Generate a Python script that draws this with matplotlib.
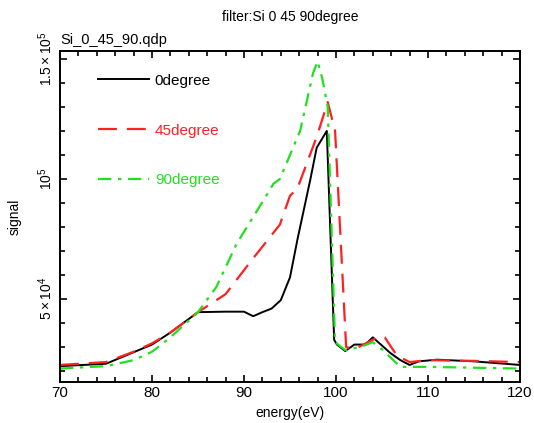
import matplotlib
matplotlib.use("Agg")
import matplotlib.pyplot as plt
from matplotlib.ticker import MultipleLocator, FixedLocator, FixedFormatter

plt.rcParams['font.family'] = ['Liberation Sans', 'DejaVu Sans']
plt.rcParams['mathtext.fontset'] = 'custom'
plt.rcParams['mathtext.rm'] = 'Liberation Sans'
plt.rcParams['mathtext.it'] = 'Liberation Sans'

# ---- data ----
e0 = [70, 75, 80, 82, 85, 88, 90, 91, 92, 93, 94, 95, 95.8, 97.2, 97.9, 99.0, 99.8, 100.1,
      101.0, 102.0, 103.2, 104.0, 105.9, 107.0, 108.0, 109.0, 111.0, 115.0, 120.0]
s0 = [2.2e4, 2.3e4, 3.1e4, 3.6e4, 4.45e4, 4.47e4, 4.47e4, 4.28e4, 4.45e4, 4.6e4, 4.95e4, 5.9e4,
      7.46e4, 9.96e4, 1.13e5, 1.2e5, 3.3e4, 3.1e4,
      2.83e4, 3.1e4, 3.1e4, 3.4e4, 2.75e4, 2.45e4, 2.25e4, 2.4e4, 2.47e4, 2.4e4, 2.25e4]

e45 = [70, 75, 78, 80, 82, 85, 88, 90.6, 93.9, 95.0, 95.8, 97.9, 99.1, 99.9, 101.1, 101.9,
       103.0, 104.0, 104.8, 105.3, 106.6, 108.0, 110.0, 115.0, 120.0]
s45 = [2.25e4, 2.37e4, 2.8e4, 3.15e4, 3.6e4, 4.45e4, 5.2e4, 6.5e4, 8.1e4, 9.3e4, 9.6e4, 1.175e5,
       1.32e5, 1.2e5, 3.0e4, 2.9e4,
       3.1e4, 3.3e4, 3.45e4, 3.4e4, 2.65e4, 2.37e4, 2.45e4, 2.42e4, 2.37e4]

e90 = [70, 75, 78, 80, 82, 85, 87, 89.2, 92.1, 93.2, 93.9, 96.1, 97.5, 98.0, 98.5, 99.1,
       99.9, 101.0, 102.0, 103.0, 104.0, 105.0, 107.0, 110.0, 120.0]
s90 = [2.1e4, 2.2e4, 2.45e4, 2.8e4, 3.4e4, 4.45e4, 5.5e4, 7.3e4, 9.1e4, 9.8e4, 1.0e5, 1.2e5,
       1.44e5, 1.49e5, 1.42e5, 1.3e5,
       3.2e4, 2.87e4, 2.95e4, 3.05e4, 3.2e4, 2.9e4, 2.17e4, 2.17e4, 2.1e4]

labels = ['0degree', '45degree', '90degree']
colors = ['black', '#ff2020', '#20e020']

yticks = [5e4, 1e5, 1.5e5]
yticklabels = [r'$5\times10^4$', r'$10^5$', r'$1.5\times10^5$']
xticks = [70, 80, 90, 100, 110, 120]

# ---- figure ----
fig = plt.figure(figsize=(5.34, 4.23), dpi=100)
ax = fig.add_axes([60/534, 1-382/423, 460/534, 331/423])

l0, = ax.plot(e0, s0, color=colors[0], lw=1.4, ls='-')
l1, = ax.plot(e45, s45, color=colors[1], lw=1.6, ls=(0, (8.5, 4.5)))
l2, = ax.plot(e90, s90, color=colors[2], lw=1.6, ls=(0, (6, 3, 1.5, 3)))

ax.set_xlim(70, 120)
ax.set_ylim(1.54e4, 1.533e5)

ax.xaxis.set_major_locator(FixedLocator(xticks))
ax.xaxis.set_minor_locator(MultipleLocator(2))
ax.yaxis.set_major_locator(FixedLocator(yticks))
ax.yaxis.set_major_formatter(FixedFormatter(yticklabels))
ax.yaxis.set_minor_locator(MultipleLocator(1e4))

ax.tick_params(which='both', direction='in', top=True, right=True, width=1.2)
ax.tick_params(which='major', length=5)
ax.tick_params(which='minor', length=3.5)
ax.tick_params(axis='x', labelsize=11, pad=3)
ax.tick_params(axis='y', labelsize=10, pad=3.5)
for lab in ax.get_yticklabels():
    lab.set_rotation(90)
    lab.set_va('center')
for sp in ax.spines.values():
    sp.set_linewidth(1.4)

ax.set_xlabel('energy(eV)', fontsize=10, labelpad=4)
ax.set_ylabel('signal', fontsize=10, labelpad=11)

fig.text(290/534, 1-17/423, 'filter:Si 0 45 90degree', ha='center', va='center', fontsize=10)
ax.text(0.0, 1.012, 'Si_0_45_90.qdp', transform=ax.transAxes, ha='left', va='bottom', fontsize=10.5)

leg = ax.legend([l0, l1, l2], labels, loc='upper left', bbox_to_anchor=(0.07, 0.95),
                frameon=False, fontsize=11, handlelength=3.3, handletextpad=0.4,
                labelspacing=2.35, borderaxespad=0)
for txt, c in zip(leg.get_texts(), colors):
    txt.set_color(c)

fig.savefig('out.png', dpi=100)
